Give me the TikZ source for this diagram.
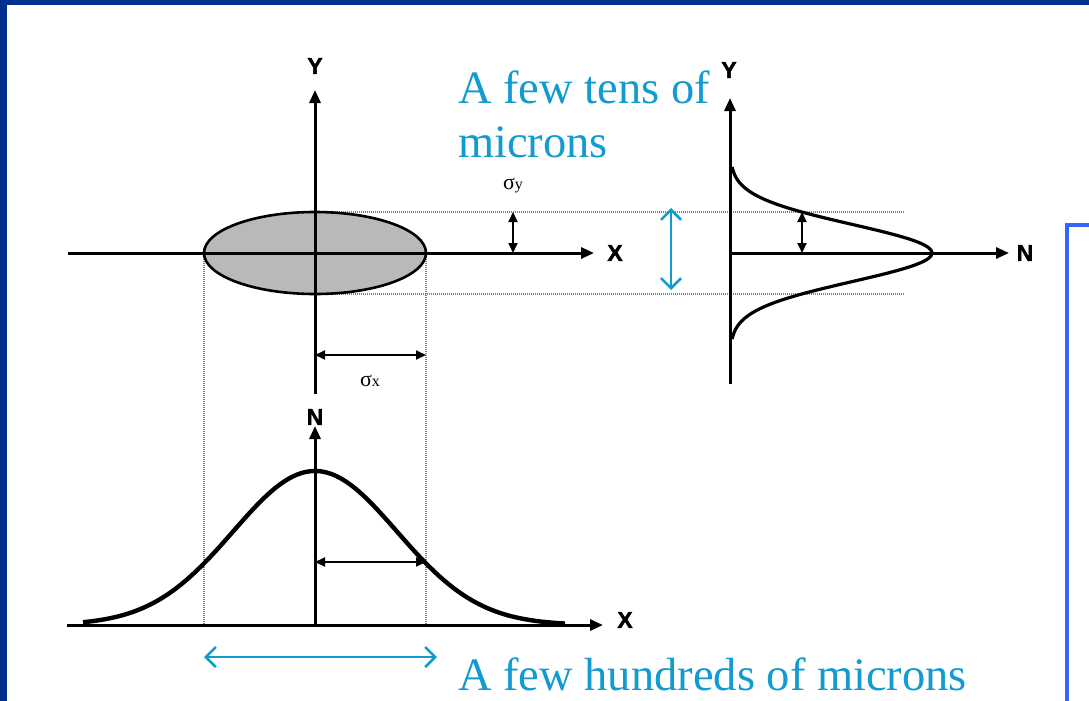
\documentclass[tikz,border=0pt]{standalone}
\usepackage{fontspec}
\setmainfont{Liberation Serif}
\newfontfamily\lsans[FakeBold=1.6]{Liberation Sans Bold}
\usetikzlibrary{arrows.meta}
\definecolor{frameblue}{RGB}{0,48,143}
\definecolor{boxblue}{RGB}{51,102,255}
\definecolor{cyantext}{RGB}{18,155,208}
\tikzset{
  axis/.style={line width=3pt,-{Triangle[length=13pt,width=11pt]}},
  dim/.style={line width=2pt,{Triangle[length=10pt,width=9pt]}-{Triangle[length=10pt,width=9pt]}},
  guide/.style={black!50,line width=1.4pt,dash pattern=on 1pt off 1pt},
  bluearrow/.style={cyantext,line width=2.6pt,{Straight Barb[length=10pt,width=20pt]}-{Straight Barb[length=10pt,width=20pt]}},
  axlabel/.style={font=\lsans\fontsize{23}{23}\selectfont,inner sep=0pt},
  siglabel/.style={inner sep=0pt},
  bigtext/.style={text=cyantext,font=\fontsize{46.5}{57}\selectfont,inner sep=0pt,anchor=base west}
}
\begin{document}
\begin{tikzpicture}[x=1pt,y=-1pt]
\useasboundingbox (0,0) rectangle (1089,701);
% frame
\fill[white] (0,0) rectangle (1089,701);
\fill[frameblue] (0,0) rectangle (1089,5);
\fill[frameblue] (0,0) rectangle (7,701);
\draw[boxblue,line width=3.5pt] (1067,703) -- (1067,225) -- (1092,225);

% named coordinates
\coordinate (O) at (315,253);
\coordinate (XL) at (68,253);
\coordinate (XR) at (594,253);
\coordinate (YB) at (315,394);
\coordinate (YT) at (315,90);
\coordinate (ETop) at (315,212);
\coordinate (EBot) at (315,294);
\coordinate (ELeft) at (204,253);
\coordinate (ERight) at (426,253);
\coordinate (GTop) at (905,212);
\coordinate (GBot) at (905,294);
\coordinate (DL) at (204,625);
\coordinate (DR) at (426,625);

% guides
\draw[guide] (ETop) -- (GTop);
\draw[guide] (EBot) -- (GBot);
\draw[guide] (ELeft) -- (DL);
\draw[guide] (ERight) -- (DR);

% ellipse
\fill[gray!55] (O) ellipse [x radius=111, y radius=41];
\draw[line width=2.6pt] (O) ellipse [x radius=111, y radius=41];

% top axes
\draw[axis] (XL) -- (XR);
\draw[axis] (YB) -- (YT);
\node[axlabel] (xlab1) at (615,253) {X};
\node[axlabel] (ylab1) at (315,66) {Y};

% sigma y
\coordinate (SyT) at (513,212);
\coordinate (SyB) at (513,253);
\draw[dim] (SyT) -- (SyB);
\node[siglabel] (sy) at (513,186) {\fontsize{22}{22}\selectfont σ\fontsize{16}{16}\selectfont y};

% sigma x
\coordinate (SxL) at (315,355);
\coordinate (SxR) at (426,355);
\draw[dim] (SxL) -- (SxR);
\node[siglabel] (sx) at (370,381) {\fontsize{22}{22}\selectfont σ\fontsize{16}{16}\selectfont x};

% right plot
\coordinate (RB) at (730,384);
\coordinate (RT) at (730,98);
\coordinate (RO) at (730,253);
\coordinate (RN) at (1009,253);
\draw[axis] (RB) -- (RT);
\draw[axis] (RO) -- (RN);
\node[axlabel] (ylab2) at (729,70) {Y};
\node[axlabel] (nlab2) at (1025,253) {N};
\draw[line width=3.2pt,smooth,samples=80,domain=-86:86]
  plot ({730+202*exp(-0.5*(\x/28.5)^2)},{253+\x});
\coordinate (RsT) at (802,212);
\coordinate (RsB) at (802,253);
\draw[dim] (RsT) -- (RsB);

% blue vertical arrow
\coordinate (BvT) at (671,208);
\coordinate (BvB) at (671,290);
\draw[bluearrow] (BvT) -- (BvB);

% bottom plot
\coordinate (BXL) at (67,625);
\coordinate (BXR) at (603,625);
\coordinate (BNB) at (315,625);
\coordinate (BNT) at (315,426);
\draw[axis] (BXL) -- (BXR);
\draw[axis] (BNB) -- (BNT);
\node[axlabel] (xlab3) at (625,620) {X};
\node[axlabel] (nlab3) at (315,417) {N};
\draw[line width=4.4pt,smooth,samples=100,domain=-232:250]
  plot ({315+\x},{625-154*exp(-0.5*(\x/82)^2)});
\coordinate (BsL) at (315,562);
\coordinate (BsR) at (426,562);
\draw[dim] (BsL) -- (BsR);

% blue horizontal arrow
\coordinate (BhL) at (204,657);
\coordinate (BhR) at (437,657);
\draw[bluearrow] (BhL) -- (BhR);

% texts
\node[bigtext] (t1) at (458,103) {A few tens of};
\node[bigtext] (t2) at (458,157) {microns};
\node[bigtext] (t3) at (458,690) {A few hundreds of microns};
\end{tikzpicture}
\end{document}
